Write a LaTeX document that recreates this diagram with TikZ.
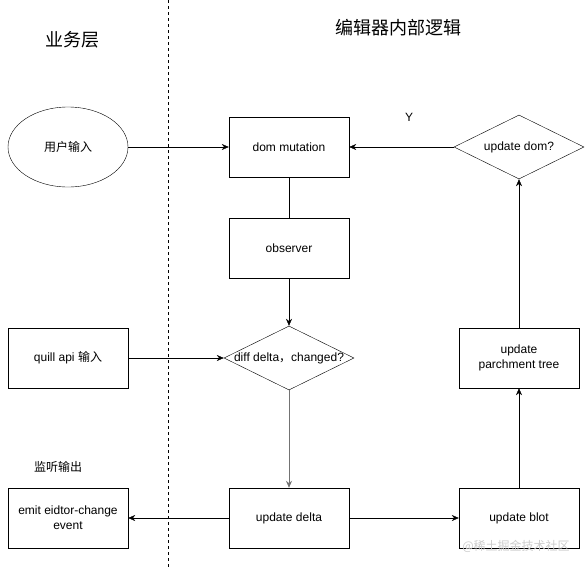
\documentclass[tikz,border=0pt]{standalone}
\usepackage{fontspec}
\setmainfont{Liberation Sans}
\newfontfamily\cjk{Noto Sans CJK SC}
\usetikzlibrary{shapes.geometric,arrows.meta}

\begin{document}
\begin{tikzpicture}[x=1pt,y=-1pt,
  every node/.style={font=\fontsize{12}{15}\selectfont},
  box/.style={rectangle,draw,minimum width=120pt,minimum height=60pt,align=center},
  decision/.style={diamond,draw,minimum width=130pt,minimum height=64pt,inner sep=0pt},
  flow/.style={-{Stealth[length=7pt,width=6pt]}}]
\useasboundingbox (0,0) rectangle (586,568);
\draw[dashed] (168,0) -- (168,568);
% headings
\node (biz) at (72,40) {\cjk\fontsize{18}{22}\selectfont 业务层};
\node (core) at (398,28) {\cjk\fontsize{18}{22}\selectfont 编辑器内部逻辑};
% left column
\node [ellipse,draw,minimum width=120pt,minimum height=80pt] (user) at (68,147) {\cjk 用户输入};
\node [box] (quill) at (68,358) {quill api {\cjk 输入}};
\node (listen) at (58,467) {\cjk 监听输出};
\node [box] (emit) at (68,518) {emit eidtor-change\\event};
% middle column
\node [box] (dom) at (289,147) {dom mutation};
\node [box] (obs) at (289,248) {observer};
\node [decision] (diff) at (289,358) {};
\node (difftxt) at (289,358) {diff delta{\cjk ，}changed?};
\node [box] (delta) at (289,518) {update delta};
% right column
\node [decision] (upd) at (519,147) {};
\node (updtxt) at (519,147) {update dom?};
\node [box] (tree) at (519,358) {update\\parchment tree};
\node [box] (blot) at (519,518) {update blot};
\node (yes) at (409,117) {Y};
\node [text=black!20] (mark) at (516,546) {\cjk @稀土掘金技术社区};
% connectors
\draw [flow] (user) -- (dom);
\draw [flow] (upd) -- (dom);
\draw (dom) -- (obs);
\draw [flow] (obs) -- (diff);
\draw [flow] (quill) -- (diff);
\draw [flow,draw=black!55,line width=0.8pt] (diff) -- (delta);
\draw [flow] (delta) -- (emit);
\draw [flow] (delta) -- (blot);
\draw [flow] (blot) -- (tree);
\draw [flow] (tree) -- (upd);
\end{tikzpicture}
\end{document}
